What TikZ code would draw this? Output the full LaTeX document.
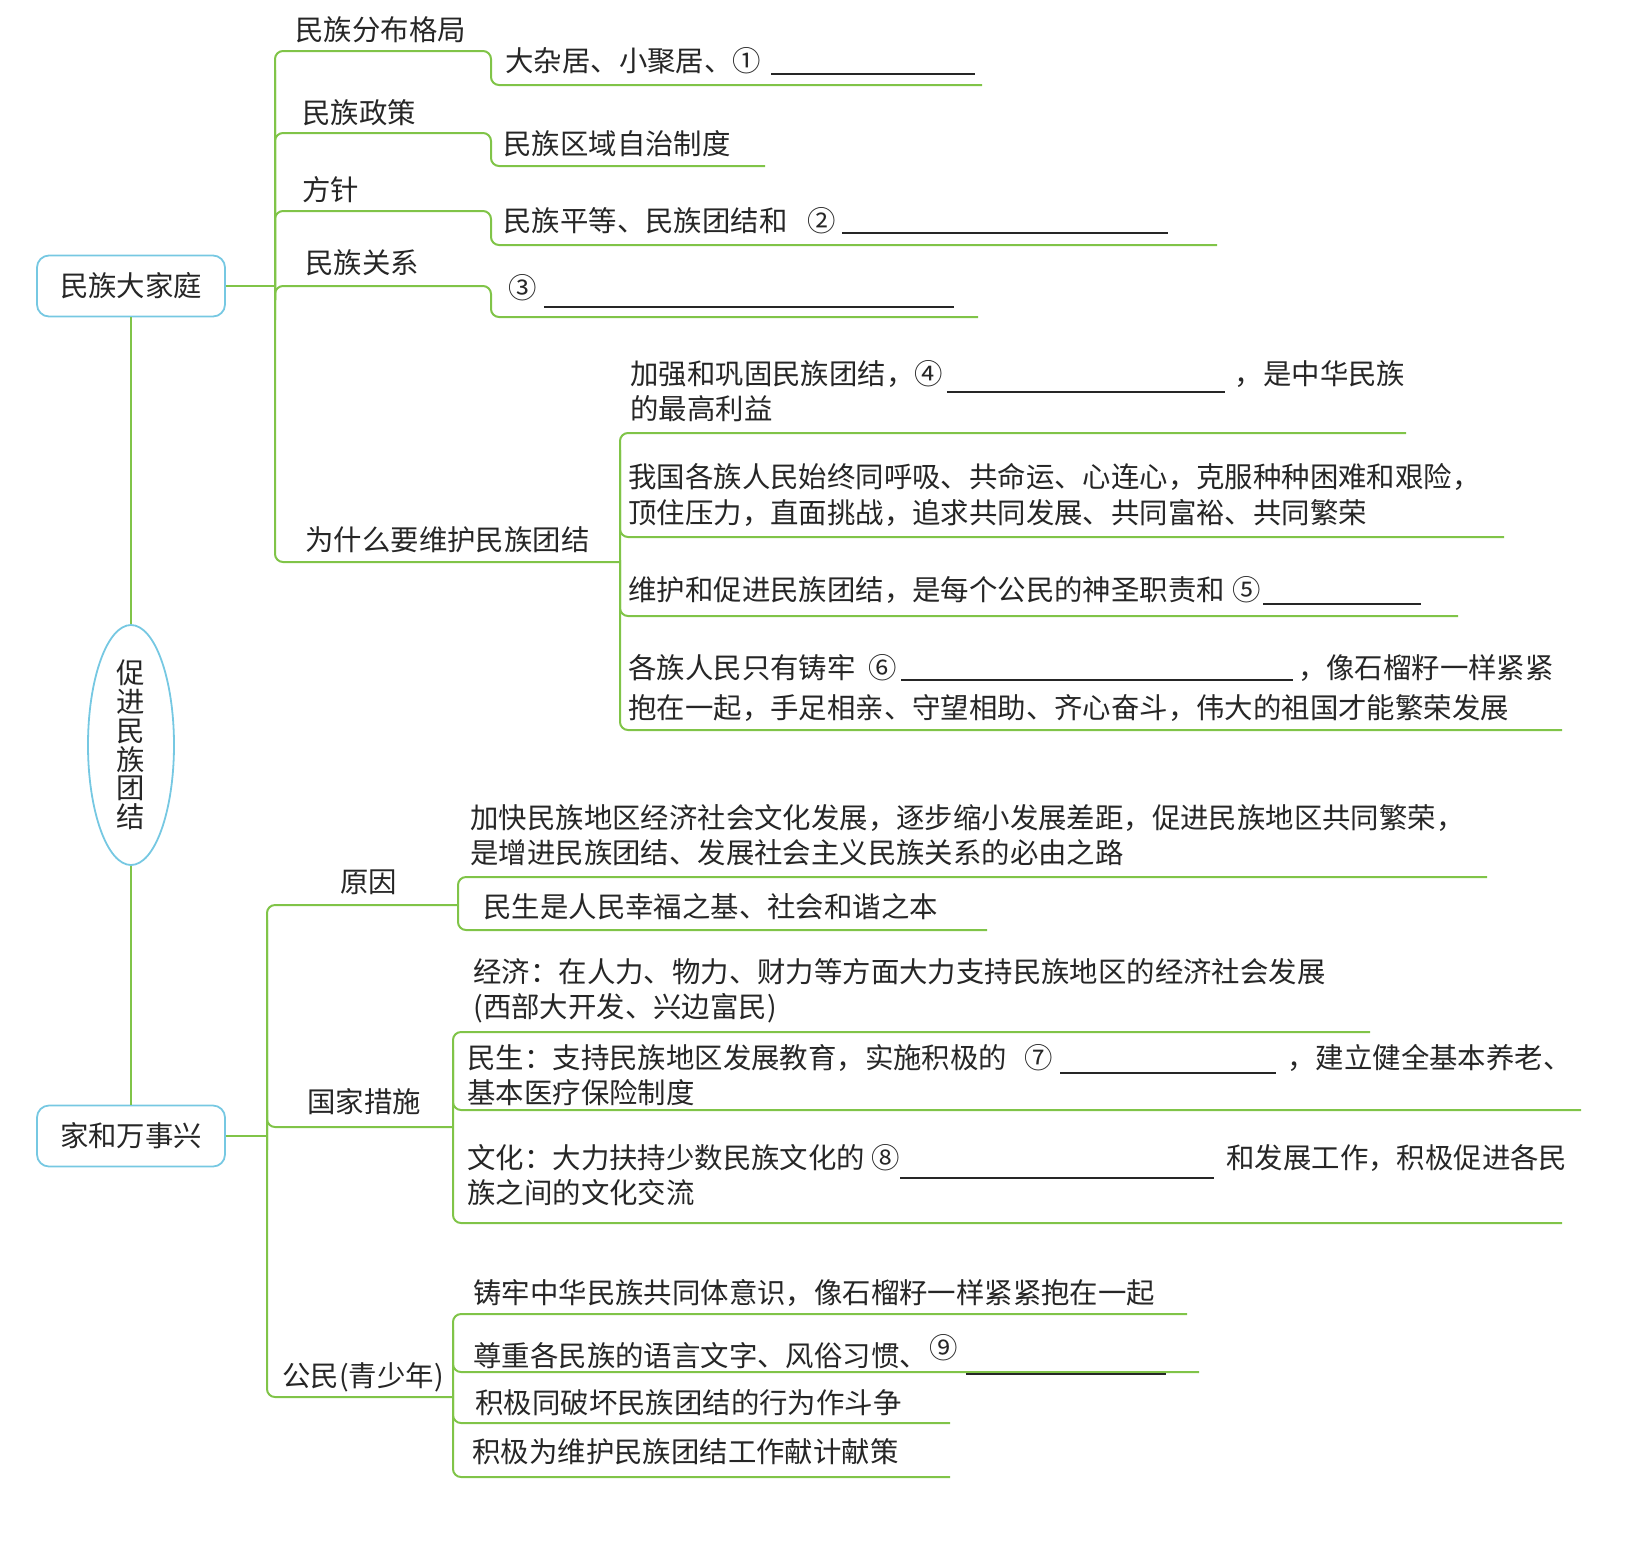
\documentclass[tikz,border=0pt]{standalone}
\usepackage{fontspec}
\setmainfont{Noto Sans CJK SC}
\usetikzlibrary{positioning, shapes.geometric}

\definecolor{twiggreen}{RGB}{128,196,72}
\definecolor{boxblue}{RGB}{118,200,226}
\definecolor{ink}{RGB}{38,38,38}

\newcommand{\blank}[2][1pt]{\smash{\rule[-#1]{#2}{0.8pt}}}

\begin{document}
\begin{tikzpicture}[
        x=0.5pt, y=-0.5pt,
        every node/.style={text=ink, font=\fontsize{14.2}{17.5}\selectfont},
        topic/.style={
            rectangle,
            rounded corners=6pt,
            draw=boxblue,
            line width=0.9pt,
            minimum width=94pt,
            minimum height=30.5pt,
            inner sep=0pt
        },
        core/.style={
            ellipse,
            draw=boxblue,
            line width=0.9pt,
            minimum width=43pt,
            minimum height=120pt,
            inner xsep=0pt,
            inner ysep=-1pt,
            align=center,
            font=\fontsize{14.2}{14.4}\selectfont
        },
        headtext/.style={anchor=west, inner sep=0pt},
        notetext/.style={anchor=west, inner sep=0pt, align=left},
        twig/.style={draw=twiggreen, line width=1pt, rounded corners=4pt}
    ]
    \useasboundingbox (0,0) rectangle (1642,1554);

    % Left spine
    \node[topic] (family) at (131,286)  {民族大家庭};
    \node[core]  (unity)  at (131,745)  {促\\进\\民\\族\\团\\结};
    \node[topic] (home)   at (131,1136) {家和万事兴};
    \draw[twig] (family) -- (unity);
    \draw[twig] (unity) -- (home);

    % Upper trunk
    \coordinate (forkA) at (275,286);
    \draw[twig] (family.east) -- (family.east -| forkA);
    \draw[twig] (275,300) -- (275,51) -- (491,51) -- (491,85) -- (982,85);
    \draw[twig] (275,300) -- (275,133) -- (491,133) -- (491,166) -- (765,166);
    \draw[twig] (275,300) -- (275,211) -- (491,211) -- (491,245) -- (1217,245);
    \draw[twig] (275,320) -- (275,286) -- (491,286) -- (491,317) -- (978,317);
    \draw[twig] (275,70) -- (275,562) -- (620,562);

    % Upper labels
    \node[headtext] (pattern) at (295,30)  {民族分布格局};
    \node[headtext] (policy)  at (302,113) {民族政策};
    \node[headtext] (guide)   at (302,190) {方针};
    \node[headtext] (relate)  at (305,263) {民族关系};
    \node[headtext] (why)     at (305,540) {为什么要维护民族团结};

    \node[notetext] (mixed)   at (505,61)  {大杂居、小聚居、①\hspace{5pt}\blank[1.5pt]{102pt}};
    \node[notetext] (autonomy) at (503,144) {民族区域自治制度};
    \node[notetext] (equal)   at (503,221) {民族平等、民族团结和\hspace{10pt}②\hspace{3pt}\blank[1pt]{163pt}};
    \node[notetext] (third)   at (508,288) {③\hspace{3.5pt}\blank[4.5pt]{205pt}};

    % Why: four reasons
    \draw[twig] (1406,433) -- (620,433) -- (620,730) -- (1562,730);
    \draw[twig] (620,450) -- (620,537) -- (1504,537);
    \draw[twig] (620,560) -- (620,616) -- (1458,616);

    \node[notetext] (interest) at (630,391.5)
        {加强和巩固民族团结，④\hspace{2pt}\blank[4pt]{139pt}\hspace{5pt}，是中华民族\\的最高利益};
    \node[notetext, font=\fontsize{14.2}{18}\selectfont] (history) at (628,495)
        {我国各族人民始终同呼吸、共命运、心连心，克服种种困难和艰险，\\顶住压力，直面挑战，追求共同发展、共同富裕、共同繁荣};
    \node[notetext] (duty) at (628,590)
        {维护和促进民族团结，是每个公民的神圣职责和\hspace{4pt}⑤\hspace{1pt}\blank[2pt]{79pt}};
    \node[notetext, font=\fontsize{14.2}{20}\selectfont] (seeds) at (628,688)
        {各族人民只有铸牢\hspace{6.5pt}⑥\hspace{2pt}\blank[1pt]{196pt}\hspace{2.5pt}，像石榴籽一样紧紧\\抱在一起，手足相亲、守望相助、齐心奋斗，伟大的祖国才能繁荣发展};

    % Lower trunk
    \coordinate (forkB) at (267,1136);
    \draw[twig] (home.east) -- (home.east -| forkB);
    \draw[twig] (267,1150) -- (267,905) -- (458,905);
    \draw[twig] (267,920) -- (267,1127) -- (453,1127);
    \draw[twig] (267,1110) -- (267,1397) -- (453,1397);

    \node[headtext] (cause)    at (340,882)  {原因};
    \node[headtext] (measures) at (307,1102) {国家措施};
    \node[headtext] (citizen)  at (282,1377) {公民(青少年)};

    % Cause
    \draw[twig] (1487,877) -- (458,877) -- (458,930) -- (987,930);
    \node[notetext] (speedup) at (470,835.5)
        {加快民族地区经济社会文化发展，逐步缩小发展差距，促进民族地区共同繁荣，\\是增进民族团结、发展社会主义民族关系的必由之路};
    \node[notetext] (welfare) at (483,907) {民生是人民幸福之基、社会和谐之本};

    % State measures
    \draw[twig] (1370,1032) -- (453,1032) -- (453,1223) -- (1562,1223);
    \draw[twig] (453,1050) -- (453,1110) -- (1581,1110);
    \node[notetext] (economy) at (473,990.5)
        {经济：在人力、物力、财力等方面大力支持民族地区的经济社会发展\\(西部大开发、兴边富民)};
    \node[notetext] (living) at (467,1075.5)
        {民生：支持民族地区发展教育，实施积极的\hspace{9pt}⑦\hspace{3.5pt}\blank[2.5pt]{108pt}\hspace{5.5pt}，建立健全基本养老、\\基本医疗保险制度};
    \node[notetext] (culture) at (467,1175.5)
        {文化：大力扶持少数民族文化的\hspace{3pt}⑧\hspace{0.5pt}\blank[5pt]{157pt}\hspace{6pt}和发展工作，积极促进各民\\族之间的文化交流};

    % Citizens
    \draw[twig] (1187,1314) -- (453,1314) -- (453,1477) -- (950,1477);
    \draw[twig] (453,1330) -- (453,1372) -- (1199,1372);
    \draw[twig] (453,1390) -- (453,1423) -- (950,1423);
    \node[notetext] (bond)    at (473,1293) {铸牢中华民族共同体意识，像石榴籽一样紧紧抱在一起};
    \node[notetext] (respect) at (473,1352)
        {尊重各民族的语言文字、风俗习惯、\hspace{1pt}\raisebox{4pt}{⑨}\hspace{4pt}\blank[4pt]{100pt}};
    \node[notetext] (oppose)  at (475,1403) {积极同破坏民族团结的行为作斗争};
    \node[notetext] (advise)  at (472,1452) {积极为维护民族团结工作献计献策};

\end{tikzpicture}
\end{document}
